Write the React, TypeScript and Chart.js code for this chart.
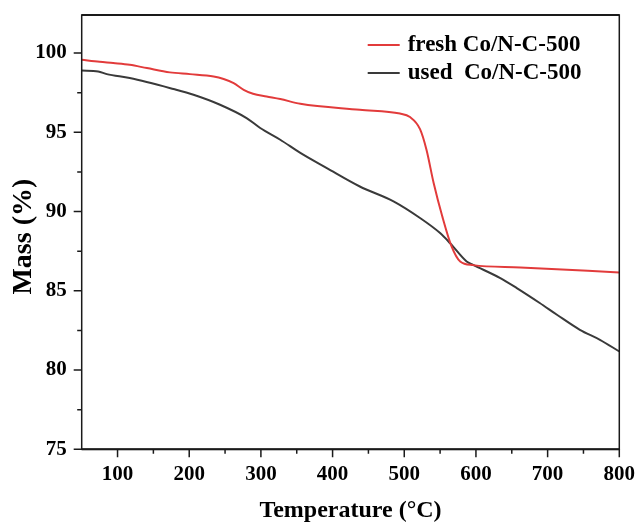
import { useEffect, useRef } from "react";
import { Chart, registerables } from "chart.js";

Chart.register(...registerables);

// ---- data ----
const freshTemp = [50, 75, 94, 117, 141, 173, 201, 234, 248, 262, 276, 289, 308, 327, 355, 438, 494, 508, 522, 531, 541, 553, 566, 578, 596, 662, 800];
const freshMass = [99.58, 99.45, 99.37, 99.26, 99.05, 98.78, 98.67, 98.52, 98.36, 98.1, 97.68, 97.43, 97.26, 97.1, 96.8, 96.42, 96.18, 95.96, 95.2, 93.9, 91.8, 89.7, 87.8, 86.85, 86.62, 86.47, 86.16];

const usedTemp = [50, 73, 85, 117, 178, 206, 243, 280, 299, 327, 355, 392, 438, 485, 522, 550, 564, 587, 596, 634, 657, 689, 713, 745, 773, 800];
const usedMass = [98.9, 98.84, 98.67, 98.42, 97.73, 97.37, 96.74, 95.9, 95.27, 94.53, 93.7, 92.74, 91.58, 90.64, 89.59, 88.64, 88.0, 86.85, 86.64, 85.8, 85.17, 84.23, 83.49, 82.54, 81.91, 81.17];

const seriesLabels = ["fresh Co/N-C-500", "used  Co/N-C-500"];
const seriesColors = ["#e23b3b", "#3a3a3a"];

const xTickValues = [100, 200, 300, 400, 500, 600, 700, 800];
const xMinorTicks = [150, 250, 350, 450, 550, 650, 750];
const yTickValues = [75, 80, 85, 90, 95, 100];
const yMinorTicks = [77.5, 82.5, 87.5, 92.5, 97.5];

const xTitle = "Temperature (°C)";
const yTitle = "Mass (%)";

const FONT = "'Liberation Serif', 'Times New Roman', serif";

const framePlugin = {
  id: "frameTicksLegend",
  afterDraw(chart: any) {
    const { ctx, chartArea: a, scales } = chart;
    ctx.save();
    // frame
    ctx.strokeStyle = "#1a1a1a";
    ctx.lineWidth = 1.5;
    ctx.strokeRect(a.left, a.top, a.right - a.left, a.bottom - a.top);
    ctx.lineWidth = 2;
    ctx.beginPath();
    ctx.moveTo(a.left, a.top);
    ctx.lineTo(a.right, a.top);
    ctx.moveTo(a.left, a.bottom);
    ctx.lineTo(a.right, a.bottom);
    ctx.stroke();

    // tick marks (major + minor), outward
    ctx.lineWidth = 1.5;
    ctx.beginPath();
    xTickValues.forEach((v) => {
      const px = scales.x.getPixelForValue(v);
      ctx.moveTo(px, a.bottom);
      ctx.lineTo(px, a.bottom + 8);
    });
    xMinorTicks.forEach((v) => {
      const px = scales.x.getPixelForValue(v);
      ctx.moveTo(px, a.bottom);
      ctx.lineTo(px, a.bottom + 4.5);
    });
    yTickValues.forEach((v) => {
      const py = scales.y.getPixelForValue(v);
      ctx.moveTo(a.left, py);
      ctx.lineTo(a.left - 8, py);
    });
    yMinorTicks.forEach((v) => {
      const py = scales.y.getPixelForValue(v);
      ctx.moveTo(a.left, py);
      ctx.lineTo(a.left - 4.5, py);
    });
    ctx.stroke();

    // y-axis title
    ctx.save();
    ctx.translate(23.8, (a.top + a.bottom) / 2 + 4.5);
    ctx.rotate(-Math.PI / 2);
    ctx.fillStyle = "#000";
    ctx.font = `bold 28px ${FONT}`;
    ctx.textAlign = "center";
    ctx.textBaseline = "middle";
    ctx.fillText(yTitle, 0, 0);
    ctx.restore();

    // legend
    const lx = a.left + 286;
    const ly = a.top + 30;
    chart.data.datasets.forEach((ds: any, i: number) => {
      const y = ly + i * 28;
      ctx.strokeStyle = ds.borderColor;
      ctx.lineWidth = 2;
      ctx.beginPath();
      ctx.moveTo(lx, y);
      ctx.lineTo(lx + 32, y);
      ctx.stroke();
      ctx.fillStyle = "#000";
      ctx.font = `bold 23px ${FONT}`;
      ctx.textBaseline = "middle";
      ctx.textAlign = "left";
      ctx.fillText(ds.label, lx + 40, y);
    });
    ctx.restore();
  },
};

export default function App() {
  const ref = useRef<HTMLCanvasElement | null>(null);

  useEffect(() => {
    if (!ref.current) return;
    const chart = new Chart(ref.current, {
      type: "line",
      data: {
        datasets: [
          {
            label: seriesLabels[0],
            data: freshTemp.map((t, i) => ({ x: t, y: freshMass[i] })),
            borderColor: seriesColors[0],
            borderWidth: 2,
            pointRadius: 0,
            cubicInterpolationMode: "monotone",
          },
          {
            label: seriesLabels[1],
            data: usedTemp.map((t, i) => ({ x: t, y: usedMass[i] })),
            borderColor: seriesColors[1],
            borderWidth: 2,
            pointRadius: 0,
            cubicInterpolationMode: "monotone",
          },
        ],
      },
      options: {
        responsive: false,
        animation: false,
        layout: { padding: { top: 15, right: 20.7, left: 0, bottom: 0 } },
        plugins: { legend: { display: false }, tooltip: { enabled: false } },
        scales: {
          x: {
            type: "linear",
            min: 50,
            max: 800,
            border: { display: false },
            grid: { display: false, drawTicks: false },
            ticks: {
              stepSize: 50,
              autoSkip: false,
              maxRotation: 0,
              padding: 13,
              color: "#000",
              font: { family: FONT, size: 21, weight: "bold" },
              callback: (v: any) => (xTickValues.includes(Number(v)) ? String(v) : ""),
            },
            title: {
              display: true,
              text: xTitle,
              color: "#000",
              font: { family: FONT, size: 24, weight: "bold", lineHeight: 1.1 },
              padding: { top: 0, bottom: 0 },
            },
            afterFit: (s: any) => {
              s.height = 74.7;
              s.paddingLeft = 0;
              s.paddingRight = 0;
              s.paddingTop = 0;
              s.paddingBottom = 0;
            },
          },
          y: {
            type: "linear",
            min: 75,
            max: 102.4,
            border: { display: false },
            grid: { display: false, drawTicks: false },
            ticks: {
              stepSize: 2.5,
              autoSkip: false,
              padding: 15,
              color: "#000",
              font: { family: FONT, size: 21, weight: "bold" },
              callback: (v: any) => (yTickValues.includes(Number(v)) ? String(v) : ""),
            },
            title: { display: false },
            afterFit: (s: any) => {
              s.width = 81.7;
              s.paddingLeft = 0;
              s.paddingRight = 0;
              s.paddingTop = 0;
              s.paddingBottom = 0;
            },
          },
        },
      } as any,
      plugins: [framePlugin],
    });
    return () => chart.destroy();
  }, []);

  return (
    <div style={{ position: "absolute", left: 0, top: 0, width: 640, height: 524, background: "#fff" }}>
      <canvas ref={ref} width={640} height={524} style={{ display: "block" }} />
    </div>
  );
}
